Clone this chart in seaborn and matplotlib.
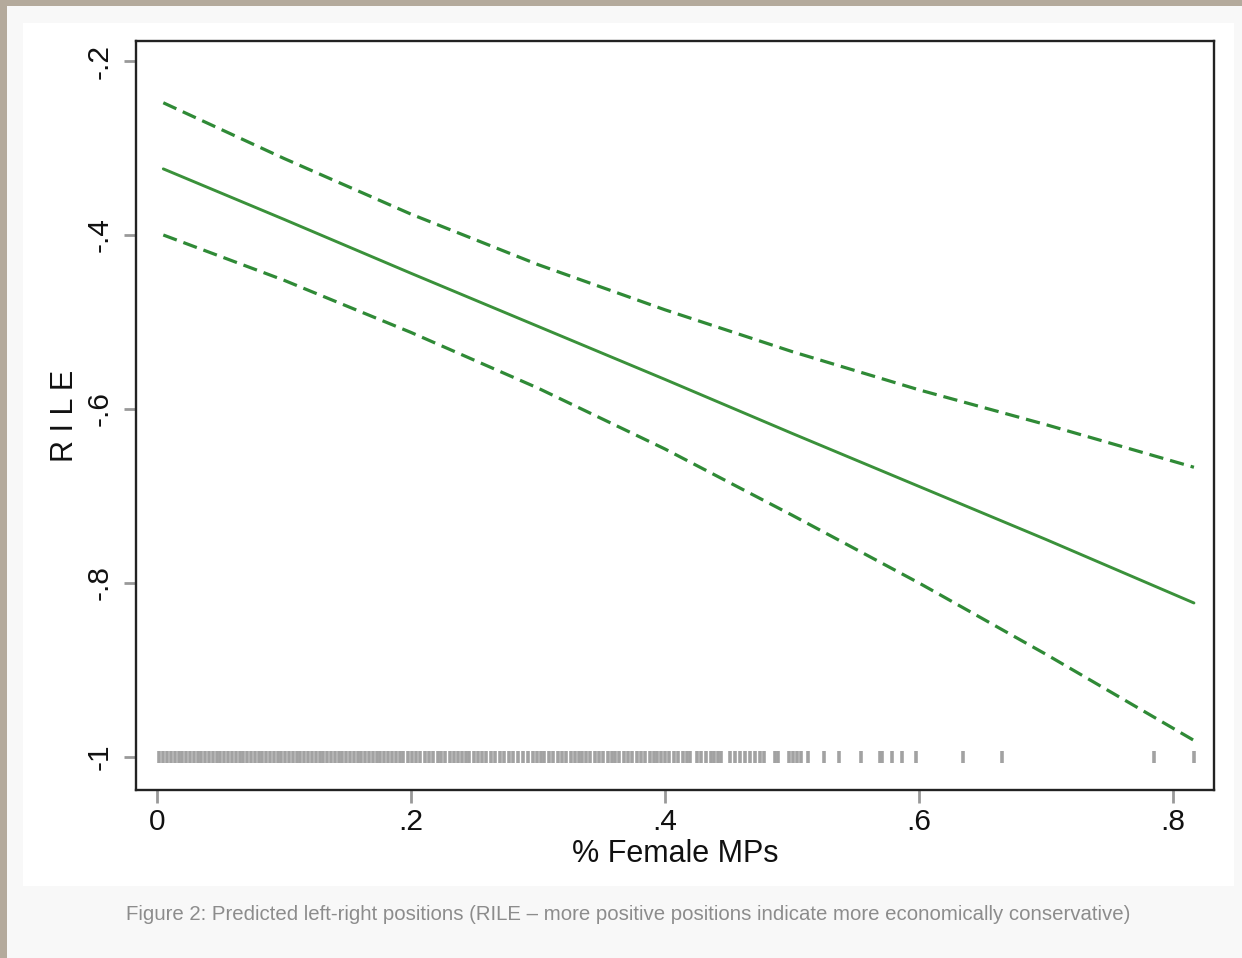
import numpy as np
import matplotlib.pyplot as plt
import seaborn as sns
from matplotlib.patches import Rectangle

# predicted values
x_pts = [0.005, 0.1, 0.2, 0.3, 0.4, 0.5, 0.6, 0.7, 0.8165]
fit = [-0.324, -0.382, -0.444, -0.505, -0.566, -0.628, -0.689, -0.750, -0.823]
upper = [-0.248, -0.312, -0.376, -0.434, -0.486, -0.534, -0.578, -0.618, -0.667]
lower = [-0.400, -0.452, -0.512, -0.576, -0.646, -0.722, -0.800, -0.882, -0.981]

# observed % female MPs (rug at y = -1)
rug_x = [
    0.002, 0.005, 0.008, 0.011, 0.014, 0.017, 0.020, 0.023, 0.026, 0.029,
    0.032, 0.035, 0.038, 0.041, 0.044, 0.047, 0.050, 0.053, 0.056, 0.059,
    0.062, 0.065, 0.068, 0.071, 0.074, 0.077, 0.080, 0.083, 0.086, 0.089,
    0.092, 0.095, 0.098, 0.101, 0.104, 0.107, 0.110, 0.113, 0.116, 0.119,
    0.122, 0.125, 0.128, 0.131, 0.134, 0.137, 0.140, 0.143, 0.146, 0.149,
    0.152, 0.155, 0.158, 0.161, 0.164, 0.167, 0.170, 0.173, 0.176, 0.179,
    0.182, 0.185, 0.188, 0.191, 0.194,
    0.198, 0.201, 0.204, 0.207, 0.211, 0.214, 0.217, 0.221, 0.224, 0.227,
    0.231, 0.234, 0.237, 0.240, 0.243, 0.246,
    0.250, 0.253, 0.256, 0.259, 0.263, 0.266, 0.270, 0.273, 0.277, 0.280,
    0.284, 0.288, 0.292, 0.296,
    0.299, 0.302, 0.305, 0.309, 0.312, 0.316, 0.319, 0.322, 0.326, 0.329, 0.332,
    0.335, 0.338, 0.341, 0.345, 0.348, 0.351, 0.355, 0.358, 0.361, 0.364,
    0.368, 0.371, 0.374, 0.378, 0.381, 0.384, 0.388, 0.391, 0.394, 0.397,
    0.400, 0.403,
    0.407, 0.410, 0.414, 0.417, 0.420,
    0.425, 0.428, 0.432, 0.436, 0.439, 0.442, 0.444,
    0.451, 0.455, 0.459, 0.463, 0.467, 0.471, 0.475, 0.478,
    0.487, 0.489, 0.498, 0.501, 0.504, 0.507,
    0.513, 0.525, 0.537, 0.554, 0.569, 0.571, 0.579, 0.587, 0.598,
    0.635, 0.665, 0.785, 0.8165,
]

x_ticks = [0, 0.2, 0.4, 0.6, 0.8]
x_labels = ['0', '.2', '.4', '.6', '.8']
y_ticks = [-1, -0.8, -0.6, -0.4, -0.2]
y_labels = ['-1', '-.8', '-.6', '-.4', '-.2']

caption = ('Figure 2: Predicted left-right positions (RILE \u2013 more positive '
           'positions indicate more economically conservative)')

sns.set_theme(style='white')
plt.rcParams['font.family'] = ['Liberation Sans', 'DejaVu Sans']

green = '#3a913a'
fig = plt.figure(figsize=(12.42, 9.58), dpi=100, facecolor='#f8f8f8')

# white panel (behind the axes) and tan frame edges
fig.patches.append(Rectangle((23 / 1242, 1 - 886 / 958), (1234 - 23) / 1242,
                             (886 - 23) / 958, transform=fig.transFigure,
                             facecolor='white', edgecolor='none', zorder=-5))
fig.patches.append(Rectangle((0, 0), 7 / 1242, 1, transform=fig.transFigure,
                             facecolor='#b4aa9c', edgecolor='none', zorder=1))
fig.patches.append(Rectangle((0, 1 - 6 / 958), 1, 6 / 958, transform=fig.transFigure,
                             facecolor='#b4aa9c', edgecolor='none', zorder=1))

ax = fig.add_axes([136 / 1242, 1 - 790 / 958, (1214 - 136) / 1242, (790 - 41) / 958])
ax.set_facecolor('white')

sns.lineplot(x=x_pts, y=fit, color=green, lw=2.1, ax=ax)
sns.lineplot(x=x_pts, y=upper, color='#2f8a36', lw=2.3, linestyle=(0, (4.5, 2.2)), ax=ax)
sns.lineplot(x=x_pts, y=lower, color='#2f8a36', lw=2.3, linestyle=(0, (4.5, 2.2)), ax=ax)
sns.scatterplot(x=rug_x, y=[-1] * len(rug_x), marker='|', s=70, linewidth=2.6,
                color='#a2a2a2', ax=ax, zorder=3)

ax.set_xlim(-0.0165, 0.8323)
ax.set_ylim(-1.038, -0.177)
ax.set_xticks(x_ticks)
ax.set_xticklabels(x_labels, fontsize=21.5, color='#111111')
ax.set_yticks(y_ticks)
ax.set_yticklabels(y_labels, fontsize=21.5, color='#111111', rotation=90, va='center')
ax.tick_params(axis='both', length=9, width=2, color='#999999', direction='out',
               left=True, bottom=True, pad=4)
ax.tick_params(axis='y', pad=7)
for sp in ax.spines.values():
    sp.set_color('#222222')
    sp.set_linewidth(1.7)

ax.set_xlabel('% Female MPs', fontsize=22, color='#111111', labelpad=2)
ax.set_ylabel('R I L E', fontsize=22, color='#111111', labelpad=4)

fig.text(0.506, 1 - 914 / 958, caption, ha='center', va='center',
         fontsize=14.7, color='#8c8c8c')

fig.savefig('out.png', dpi=100, facecolor=fig.get_facecolor())
